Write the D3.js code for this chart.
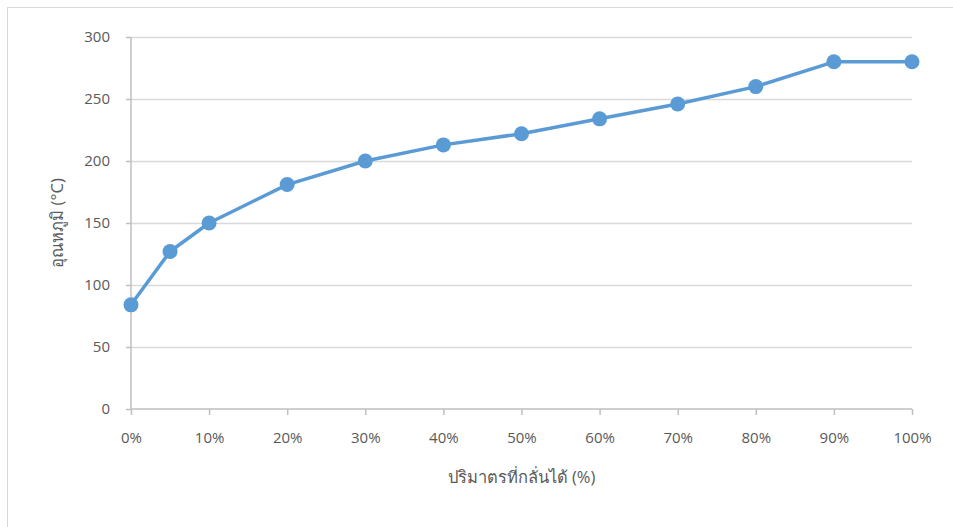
<!DOCTYPE html>
<html>
<head>
<meta charset="utf-8">
<script src="https://cdn.jsdelivr.net/npm/d3@7"></script>
<style>
  body { margin: 0; background: #fff; }
  text { font-family: "Open Sans", "Noto Sans", "DejaVu Sans", sans-serif; fill: #595959; }
</style>
</head>
<body>
<svg id="chart"></svg>
<script>
// chart data
const distilled = [0, 5, 10, 20, 30, 40, 50, 60, 70, 80, 90, 100];
const temperature = [84, 127, 150, 181, 200, 213, 222, 234, 246, 260, 280, 280];
const xTicks = [0, 10, 20, 30, 40, 50, 60, 70, 80, 90, 100];
const yTicks = [0, 50, 100, 150, 200, 250, 300];
const xTitle = "ปริมาตรที่กลั่นได้ (%)";
const yTitle = "อุณหภูมิ (°C)";

const svgWidth = 953, svgHeight = 527;
const margin = { top: 37, right: 41, bottom: 118, left: 131 };
const width = svgWidth - margin.left - margin.right;
const height = svgHeight - margin.top - margin.bottom;

const svg = d3.select("#chart")
    .attr("width", svgWidth)
    .attr("height", svgHeight);

// outer border (runs off the right / bottom edge)
svg.append("rect")
    .attr("x", 7.5).attr("y", 7.5)
    .attr("width", svgWidth).attr("height", svgHeight)
    .attr("fill", "none")
    .attr("stroke", "#d9d9d9");

const g = svg.append("g")
    .attr("transform", `translate(${margin.left}, ${margin.top})`);

const xScale = d3.scaleLinear().domain([0, 100]).range([0, width]);
const yScale = d3.scaleLinear().domain([0, 300]).range([height, 0]);

// gridlines
g.append("g")
    .selectAll("line")
    .data(yTicks.filter(d => d > 0))
    .join("line")
    .attr("x1", 0).attr("x2", width)
    .attr("y1", d => Math.round(yScale(d)) + 0.5)
    .attr("y2", d => Math.round(yScale(d)) + 0.5)
    .attr("stroke", "#d9d9d9")
    .attr("stroke-width", 1.5);

// x axis
const xAxis = g.append("g")
    .attr("transform", `translate(0, ${height})`)
    .call(d3.axisBottom(xScale).tickValues(xTicks).tickSize(6).tickPadding(17)
        .tickFormat(d => d + "%"));
xAxis.select(".domain").attr("stroke", "#bfbfbf").attr("stroke-width", 1.5)
    .attr("d", `M0,0H${width}`);
xAxis.selectAll(".tick line").attr("stroke", "#bfbfbf").attr("stroke-width", 1.5);
xAxis.selectAll("text").style("font-size", "15px").attr("fill", "#595959");

// y axis
const yAxis = g.append("g")
    .call(d3.axisLeft(yScale).tickValues(yTicks).tickSize(5).tickPadding(16));
yAxis.select(".domain").attr("stroke", "#bfbfbf").attr("stroke-width", 1.5)
    .attr("d", `M0,0V${height}`);
yAxis.selectAll(".tick line").attr("stroke", "#bfbfbf").attr("stroke-width", 1.5);
yAxis.selectAll("text").style("font-size", "15px").attr("fill", "#595959");

// axis titles
g.append("text")
    .attr("x", width / 2)
    .attr("y", height + 74)
    .attr("text-anchor", "middle")
    .style("font-size", "16.5px")
    .text(xTitle);

g.append("text")
    .attr("transform", `translate(${-68}, ${height / 2}) rotate(-90)`)
    .attr("text-anchor", "middle")
    .style("font-size", "16.5px")
    .text(yTitle);

// line + markers
const points = distilled.map((d, i) => ({ x: d, y: temperature[i] }));

const line = d3.line()
    .x(d => xScale(d.x))
    .y(d => yScale(d.y));

g.append("path")
    .datum(points)
    .attr("fill", "none")
    .attr("stroke", "#5b9bd5")
    .attr("stroke-width", 3.5)
    .attr("stroke-linejoin", "round")
    .attr("d", line);

g.selectAll(".dot")
    .data(points)
    .join("circle")
    .attr("class", "dot")
    .attr("cx", d => xScale(d.x))
    .attr("cy", d => yScale(d.y))
    .attr("r", 7.5)
    .attr("fill", "#5b9bd5");
</script>
</body>
</html>
